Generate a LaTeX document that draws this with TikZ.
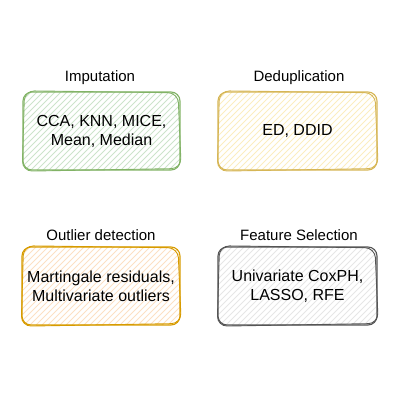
\documentclass[tikz,border=0pt]{standalone}
\usepackage{fontspec}
\setmainfont{Liberation Sans}
\definecolor{gS}{HTML}{82B366}\definecolor{gF}{HTML}{CDE3CB}
\definecolor{yS}{HTML}{D6B656}\definecolor{yF}{HTML}{FBEDC0}
\definecolor{oS}{HTML}{D79B00}\definecolor{oF}{HTML}{FCE0C4}
\definecolor{kS}{HTML}{555555}\definecolor{kF}{HTML}{E6E6E6}
\tikzset{
  title/.style={font=\fontsize{15}{17}\selectfont, text=black},
  body/.style={font=\fontsize{16}{19}\selectfont, align=center, text=black},
}
\newcommand{\sketchbox}[6]{%
  % #1 name, #2 x1, #3 y1, #4 x2, #5 y2, #6 colour prefix
  \begin{scope}
    \clip[rounded corners=9pt] (#2,#3) rectangle (#4,#5);
    \foreach \k in {-100,-94,...,200}{
      \draw[#6F, line width=0.9pt] (#2+\k,#5) -- ++(90,-90);
    }
  \end{scope}
  \draw[#6S, line width=1.1pt, rounded corners=9pt] (#2,#3) rectangle (#4,#5);
  \draw[#6S, line width=0.9pt, rounded corners=10pt] (#2+1.5,#3-1.2) -- (#4-2,#3+0.8) -- (#4+1.2,#5-1.5) -- (#2-0.8,#5+1.2) -- cycle;
  \coordinate (#1) at ({(#2+#4)/2},{(#3+#5)/2});
}
\begin{document}
\begin{tikzpicture}[x=1pt,y=-1pt]
\useasboundingbox (0,0) rectangle (400,400);
\sketchbox{imp}{23}{92}{180}{170}{g}
\sketchbox{ded}{218}{92}{377}{170}{y}
\sketchbox{out}{22}{247}{180}{325}{o}
\sketchbox{fs}{218}{247}{377}{325}{k}
\node[title] (timp) at (100,78) {Imputation};
\node[title] (tded) at (299,78) {Deduplication};
\node[title] (tout) at (101,235) {Outlier detection};
\node[title] (tfs) at (299,235) {Feature Selection};
\node[body] (bimp) at (imp) {CCA, KNN, MICE,\\Mean, Median};
\node[body] (bded) at (ded) {ED, DDID};
\node[body] (bout) at (out) {Martingale residuals,\\Multivariate outliers};
\node[body] (bfs) at (fs) {Univariate CoxPH,\\LASSO, RFE};
\end{tikzpicture}
\end{document}
